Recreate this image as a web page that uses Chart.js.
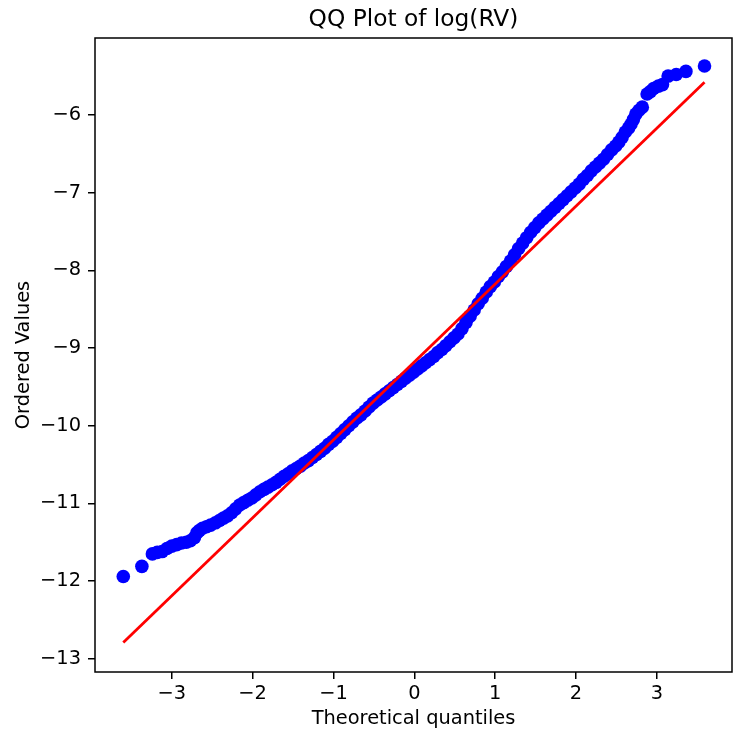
<!DOCTYPE html>
<html>
<head>
<meta charset="utf-8">
<title>QQ Plot of log(RV)</title>
<script src="https://cdn.jsdelivr.net/npm/chart.js@4/dist/chart.umd.min.js"></script>
<style>
  html, body { margin: 0; padding: 0; background: #fff; }
  #chart { display: block; }
</style>
</head>
<body>
<canvas id="chart" width="733" height="733"></canvas>
<script>
// theoretical quantiles (x) and ordered values (y)
const quantiles = [
  -3.60, -3.37, -3.24, -3.18, -3.12, -3.06, -3.00, -2.94, -2.88, -2.82,
  -2.77, -2.72, -2.69, -2.66, -2.62, -2.57, -2.52, -2.46, -2.41, -2.36,
  -2.31, -2.26, -2.21, -2.16, -2.11, -2.06, -2.01, -1.96, -1.91, -1.86,
  -1.81, -1.76, -1.71, -1.66, -1.61, -1.56, -1.51, -1.46, -1.41, -1.36,
  -1.31, -1.26, -1.21, -1.16, -1.11, -1.06, -1.01, -0.96, -0.91, -0.86,
  -0.81, -0.76, -0.71, -0.66, -0.61, -0.56, -0.51, -0.46, -0.41, -0.36,
  -0.31, -0.26, -0.21, -0.16, -0.11, -0.06, -0.01, 0.04, 0.09, 0.14,
  0.19, 0.24, 0.29, 0.34, 0.39, 0.44, 0.49, 0.54, 0.59, 0.64,
  0.69, 0.74, 0.79, 0.84, 0.89, 0.94, 0.99, 1.04, 1.09, 1.14,
  1.19, 1.24, 1.29, 1.34, 1.39, 1.44, 1.49, 1.54, 1.59, 1.64,
  1.69, 1.74, 1.79, 1.84, 1.89, 1.94, 1.99, 2.04, 2.09, 2.14,
  2.19, 2.24, 2.29, 2.34, 2.39, 2.44, 2.49, 2.53, 2.57, 2.61,
  2.65, 2.68, 2.71, 2.74, 2.78, 2.82, 2.88, 2.92, 2.96, 3.02,
  3.07, 3.14, 3.24, 3.36, 3.59
];
const orderedValues = [
  -11.94, -11.81, -11.65, -11.63, -11.62, -11.58, -11.55, -11.53, -11.51, -11.50,
  -11.48, -11.44, -11.38, -11.35, -11.32, -11.30, -11.28, -11.25, -11.22, -11.19,
  -11.16, -11.12, -11.07, -11.02, -10.99, -10.96, -10.93, -10.89, -10.85, -10.82,
  -10.79, -10.76, -10.73, -10.69, -10.65, -10.62, -10.58, -10.55, -10.52, -10.48,
  -10.45, -10.41, -10.37, -10.33, -10.29, -10.24, -10.20, -10.15, -10.10, -10.05,
  -10.00, -9.95, -9.90, -9.86, -9.81, -9.76, -9.71, -9.67, -9.63, -9.59,
  -9.55, -9.51, -9.47, -9.43, -9.39, -9.35, -9.31, -9.27, -9.23, -9.19,
  -9.15, -9.11, -9.06, -9.02, -8.97, -8.92, -8.87, -8.82, -8.75, -8.67,
  -8.59, -8.51, -8.43, -8.36, -8.28, -8.21, -8.15, -8.08, -8.02, -7.95,
  -7.88, -7.80, -7.72, -7.65, -7.58, -7.51, -7.45, -7.39, -7.34, -7.29,
  -7.24, -7.19, -7.14, -7.09, -7.04, -6.99, -6.94, -6.89, -6.83, -6.78,
  -6.72, -6.67, -6.62, -6.57, -6.51, -6.45, -6.40, -6.35, -6.29, -6.22,
  -6.17, -6.12, -6.06, -5.99, -5.94, -5.90, -5.73, -5.70, -5.66, -5.63,
  -5.61, -5.50, -5.48, -5.44, -5.37
];

// fitted reference line end points
const fitX = [-3.60, 3.59];
const fitY = [-12.79, -5.58];

const xTicks = [-3, -2, -1, 0, 1, 2, 3];
const yTicks = [-13, -12, -11, -10, -9, -8, -7, -6];

const chartTitle = 'QQ Plot of log(RV)';
const FONT = "'DejaVu Sans', sans-serif";
Chart.defaults.color = '#000';
Chart.defaults.font.family = FONT;

function minusLabel(v) {
  return v < 0 ? '\u2212' + Math.abs(v) : String(v);
}

// matplotlib style box round the axes, title centred over the axes
const frame = {
  id: 'frame',
  afterDraw(chart) {
    const { ctx, chartArea: a } = chart;
    ctx.save();
    ctx.strokeStyle = '#000';
    ctx.lineWidth = 1.5;
    ctx.strokeRect(a.left, a.top, a.right - a.left, a.bottom - a.top);
    ctx.fillStyle = '#000';
    ctx.font = '23.3px ' + FONT;
    ctx.textAlign = 'center';
    ctx.textBaseline = 'middle';
    ctx.fillText(chartTitle, (a.left + a.right) / 2, 20);
    ctx.restore();
  }
};

const points = quantiles.map((q, i) => ({ x: q, y: orderedValues[i] }));
const fitLine = fitX.map((q, i) => ({ x: q, y: fitY[i] }));

new Chart(document.getElementById('chart'), {
  type: 'scatter',
  data: {
    datasets: [
      {
        label: 'data',
        data: points,
        order: 1,
        backgroundColor: '#0000ff',
        borderColor: '#0000ff',
        pointRadius: 6.8,
        pointBorderWidth: 0,
        pointHoverRadius: 6.8
      },
      {
        label: 'fit',
        data: fitLine,
        order: 0,
        showLine: true,
        borderColor: '#ff0000',
        borderWidth: 2.8,
        pointRadius: 0,
        fill: false
      }
    ]
  },
  options: {
    responsive: false,
    animation: false,
    layout: { autoPadding: false, padding: { left: 0, right: 1, top: 38, bottom: 0 } },
    plugins: {
      legend: { display: false },
      tooltip: { enabled: false },
      title: { display: false }
    },
    scales: {
      x: {
        type: 'linear',
        min: -3.95,
        max: 3.93,
        afterFit(scale) {
          scale.height = 61;
          scale.paddingLeft = 0;
          scale.paddingRight = 0;
        },
        afterBuildTicks(scale) { scale.ticks = xTicks.map(v => ({ value: v })); },
        border: { display: false },
        grid: { display: true, drawOnChartArea: false, drawTicks: true, tickLength: 7, color: '#000', lineWidth: 1.5 },
        ticks: { padding: 3, font: { family: FONT, size: 19.4 }, callback: v => minusLabel(v) },
        title: { display: true, text: 'Theoretical quantiles', font: { family: FONT, size: 19.4 }, padding: { top: 0, bottom: 2 } }
      },
      y: {
        type: 'linear',
        min: -13.17,
        max: -5.01,
        afterFit(scale) { scale.width = 95; },
        afterBuildTicks(scale) { scale.ticks = yTicks.map(v => ({ value: v })); },
        border: { display: false },
        grid: { display: true, drawOnChartArea: false, drawTicks: true, tickLength: 7, color: '#000', lineWidth: 1.5 },
        ticks: { padding: 7, font: { family: FONT, size: 19.4 }, callback: v => minusLabel(v) },
        title: { display: true, text: 'Ordered Values', font: { family: FONT, size: 19.4 }, padding: { top: 12, bottom: 0 } }
      }
    }
  },
  plugins: [frame]
});
</script>
</body>
</html>
